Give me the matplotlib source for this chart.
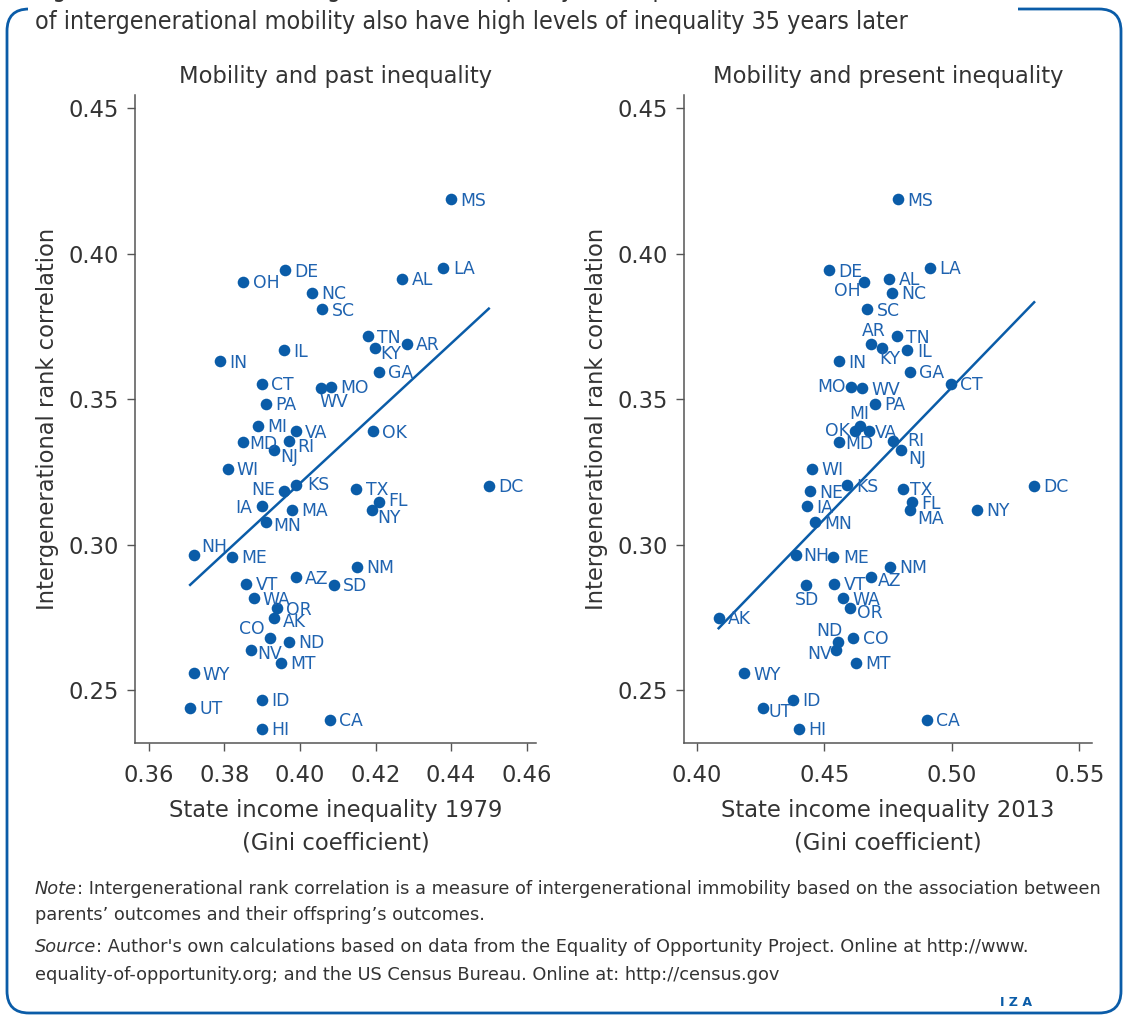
import numpy as np
import matplotlib
matplotlib.use("Agg")
import matplotlib.pyplot as plt
from matplotlib.patches import FancyBboxPatch, Rectangle

# state codes, rank correlation (same for both panels) and Gini in 1979 / 2013
states = ["MS", "LA", "AL", "DE", "OH", "NC", "SC", "TN", "KY", "AR",
          "IL", "IN", "GA", "CT", "MO", "WV", "PA", "MI", "VA", "OK",
          "MD", "RI", "NJ", "WI", "KS", "NE", "TX", "DC", "FL", "IA",
          "MA", "NY", "MN", "NH", "ME", "NM", "AZ", "VT", "SD", "WA",
          "OR", "AK", "CO", "ND", "NV", "MT", "WY", "ID", "UT", "CA", "HI"]

mobility = [0.4186, 0.3951, 0.3913, 0.3943, 0.3902, 0.3865, 0.3808, 0.3716, 0.3677, 0.3690,
            0.3668, 0.3630, 0.3594, 0.3552, 0.3542, 0.3537, 0.3483, 0.3408, 0.3389, 0.3389,
            0.3352, 0.3355, 0.3326, 0.3260, 0.3203, 0.3183, 0.3191, 0.3201, 0.3145, 0.3132,
            0.3119, 0.3119, 0.3077, 0.2965, 0.2958, 0.2923, 0.2887, 0.2865, 0.2861, 0.2815,
            0.2781, 0.2748, 0.2680, 0.2666, 0.2639, 0.2593, 0.2558, 0.2466, 0.2439, 0.2398, 0.2367]

gini_1979 = [0.4400, 0.4380, 0.4271, 0.3960, 0.3850, 0.4031, 0.4059, 0.4179, 0.4199, 0.4283,
             0.3958, 0.3788, 0.4209, 0.3899, 0.4081, 0.4056, 0.3911, 0.3888, 0.3989, 0.4192,
             0.3849, 0.3970, 0.3931, 0.3808, 0.3989, 0.3958, 0.4149, 0.4500, 0.4209, 0.3899,
             0.3979, 0.4190, 0.3911, 0.3718, 0.3819, 0.4150, 0.3989, 0.3858, 0.4090, 0.3877,
             0.3938, 0.3930, 0.3920, 0.3971, 0.3869, 0.3950, 0.3718, 0.3899, 0.3709, 0.4079, 0.3899]

gini_2013 = [0.4789, 0.4914, 0.4755, 0.4517, 0.4657, 0.4766, 0.4669, 0.4784, 0.4724, 0.4684,
             0.4826, 0.4556, 0.4836, 0.4995, 0.4605, 0.4648, 0.4699, 0.4641, 0.4673, 0.4620,
             0.4556, 0.4770, 0.4802, 0.4450, 0.4589, 0.4445, 0.4810, 0.5323, 0.4845, 0.4433,
             0.4836, 0.5098, 0.4463, 0.4389, 0.4533, 0.4758, 0.4682, 0.4538, 0.4427, 0.4573,
             0.4602, 0.4085, 0.4614, 0.4554, 0.4545, 0.4622, 0.4185, 0.4378, 0.4259, 0.4903, 0.4400]

ticks_1979 = [0.36, 0.38, 0.40, 0.42, 0.44, 0.46]
ticks_2013 = [0.40, 0.45, 0.50, 0.55]
yticks = [0.25, 0.30, 0.35, 0.40, 0.45]

# label placement that differs from "right of the dot": (dx pt, dy pt, ha)
offs_left = {
    "NE": (-6.5, 1, "right"), "IA": (-7, -1, "right"), "CO": (-3.5, 6, "right"),
    "WV": (-1, -10, "left"), "KY": (3.6, -4.3, "left"), "RI": (6, -4, "left"),
    "NJ": (4.3, -5, "left"), "MN": (5, -3, "left"), "NY": (4, -6, "left"),
    "FL": (6.5, 1, "left"), "NH": (5.3, 5.5, "left"), "AK": (6.5, -3, "left"),
    "NV": (4.5, -3, "left"), "KS": (8, 0, "left"), "MD": (4.5, -1, "left"),
}
offs_right = {
    "OH": (-3, -6.5, "right"), "AR": (2, 9.4, "center"), "KY": (6, -8.4, "center"),
    "MO": (-3.6, 0, "right"), "MI": (-1, 8.6, "center"), "OK": (-3.6, 0, "right"),
    "NJ": (4.8, -6.7, "left"), "MA": (5, -6.5, "left"), "SD": (1, -11, "center"),
    "ND": (3, 7.6, "right"), "NV": (-2.7, -3, "right"), "UT": (3.6, -2.7, "left"),
    "OR": (4.6, -3.6, "left"), "RI": (10, 0, "left"), "VA": (4.3, -1, "left"),
    "NH": (4.8, -1, "left"), "AZ": (4.8, -2.7, "left"), "TX": (4.8, -1, "left"),
    "MD": (5, -1, "left"), "ME": (7.2, -1, "left"),
}

blue = "#0a5ca8"
lblue = "#1f63b0"
grey = "#333333"
W, H = 1124, 1017
fs = 16.3

plt.rcParams["font.family"] = ["DejaVu Sans"]
fig = plt.figure(figsize=(W / 100, H / 100), dpi=100)

# frame around the figure
bg = fig.add_axes([0, 0, 1, 1])
bg.set_xlim(0, W)
bg.set_ylim(H, 0)
bg.axis("off")
bg.add_patch(FancyBboxPatch((7, 9), 1114, 1004, boxstyle="round,pad=0,rounding_size=22",
                            fc="none", ec=blue, lw=2))
bg.add_patch(Rectangle((28, 0), 990, 20, fc="white", ec="none"))


def fx(px):
    return px / W


def fy(py):
    return 1 - py / H


fig.text(fx(35), fy(-10), "Figure 1. US states with high levels of inequality in the past and low levels",
         fontsize=17.9, color=grey, va="center", ha="left", fontstretch="condensed")
fig.text(fx(35), fy(22), "of intergenerational mobility also have high levels of inequality 35 years later",
         fontsize=17.9, color=grey, va="center", ha="left", fontstretch="condensed")


def panel(rect, gini, title, xlabel, xlim, xticks, offs):
    ax = fig.add_axes(rect)
    ax.scatter(gini, mobility, s=70, color=blue, linewidths=0, zorder=3)
    b, a = np.polyfit(gini, mobility, 1)
    xs = np.array([min(gini), max(gini)])
    ax.plot(xs, a + b * xs, color=blue, lw=1.8, zorder=2)
    for st, xi, yi in zip(states, gini, mobility):
        dx, dy, ha = offs.get(st, (6.7, -1, "left"))
        ax.annotate(st, (xi, yi), xytext=(dx, dy), textcoords="offset points",
                    ha=ha, va="center", fontsize=12.4, color=lblue, zorder=4)
    ax.set_xlim(*xlim)
    ax.set_ylim(0.2318, 0.4545)
    ax.set_xticks(xticks)
    ax.set_xticklabels([f"{t:.2f}" for t in xticks])
    ax.set_yticks(yticks)
    ax.set_yticklabels([f"{t:.2f}" for t in yticks])
    for s in ["top", "right"]:
        ax.spines[s].set_visible(False)
    for s in ["left", "bottom"]:
        ax.spines[s].set_color("#555555")
        ax.spines[s].set_linewidth(1.1)
    ax.tick_params(axis="both", length=5.8, width=1, color="#555555",
                   labelsize=fs, labelcolor=grey)
    ax.tick_params(axis="x", pad=9)
    ax.tick_params(axis="y", pad=6)
    ax.set_title(title, fontsize=fs, color=grey, pad=8.6)
    ax.set_ylabel("Intergenerational rank correlation", fontsize=fs, color=grey, labelpad=7)
    ax.set_xlabel(xlabel, fontsize=fs, color=grey, labelpad=9, linespacing=1.5)
    return ax


panel([135 / W, 1 - 743 / H, 401 / W, 648 / H], gini_1979, "Mobility and past inequality",
      "State income inequality 1979\n(Gini coefficient)", (0.3563, 0.4625), ticks_1979, offs_left)
panel([684 / W, 1 - 743 / H, 408 / W, 648 / H], gini_2013, "Mobility and present inequality",
      "State income inequality 2013\n(Gini coefficient)", (0.3949, 0.555), ticks_2013, offs_right)

# note and source
notes = [
    ("Note", ": Intergenerational rank correlation is a measure of intergenerational immobility based on the association between", 889),
    ("", "parents\u2019 outcomes and their offspring\u2019s outcomes.", 915),
    ("Source", ": Author's own calculations based on data from the Equality of Opportunity Project. Online at http://www.", 947),
    ("", "equality-of-opportunity.org; and the US Census Bureau. Online at: http://census.gov", 975),
]
for it, rest, py in notes:
    if it:
        t = fig.text(fx(35), fy(py), it, fontsize=12.8, style="italic", color=grey, va="center", ha="left")
        bg.annotate(rest, xy=(1, 0), xycoords=t, va="bottom", ha="left", fontsize=12.8, color=grey)
    else:
        fig.text(fx(35), fy(py), rest, fontsize=12.8, color=grey, va="center", ha="left")

fig.text(fx(1016), fy(1003), "I Z A", fontsize=9, color=blue, ha="center", va="center", weight="bold")

fig.savefig("out.png", dpi=100)
